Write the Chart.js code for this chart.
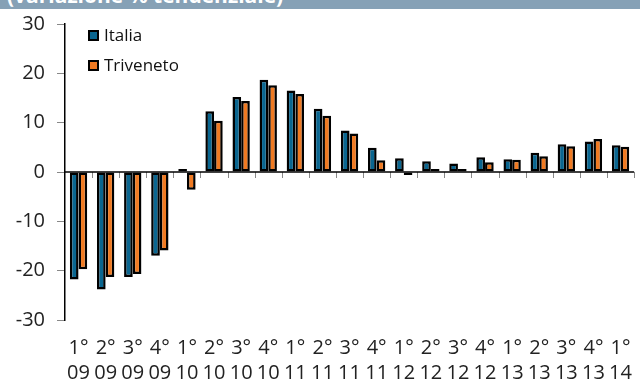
<!DOCTYPE html>
<html>
<head>
<meta charset="utf-8">
<script src="https://cdn.jsdelivr.net/npm/chart.js@4/dist/chart.umd.min.js"></script>
<style>
    body { margin: 0; background: #fff; }
    #wrap { position: relative; width: 640px; height: 383px; overflow: hidden; font-family: "Open Sans", sans-serif; }
    #titleBar { position: absolute; left: 0; top: 0; width: 640px; height: 9px; overflow: hidden; background: #86a1b6; }
    #titleBar span { position: absolute; left: 7px; top: -15px; font-size: 21px; line-height: 1; font-weight: bold; color: #fff; white-space: nowrap; }
    .leg { position: absolute; left: 88px; font-size: 17px; color: #111; line-height: 20px; }
    .leg i { position: absolute; left: 0; top: 5px; width: 7px; height: 7px; border: 2px solid #000; }
    .leg b { font-weight: normal; margin-left: 16px; }
</style>
</head>
<body>
<div id="wrap">
    <canvas id="myChart" width="640" height="383"></canvas>
    <div id="titleBar"><span>(variazione % tendenziale)</span></div>
    <div class="leg" style="top:25px"><i style="background:#0a6690"></i><b>Italia</b></div>
    <div class="leg" style="top:55px"><i style="background:#f07a22"></i><b>Triveneto</b></div>
</div>
<script>
// trimestri 2009 - 2014
var quarters = ['1°', '2°', '3°', '4°', '1°', '2°', '3°', '4°', '1°', '2°', '3°', '4°', '1°', '2°', '3°', '4°', '1°', '2°', '3°', '4°', '1°'];
var years = ['09', '09', '09', '09', '10', '10', '10', '10', '11', '11', '11', '11', '12', '12', '12', '12', '13', '13', '13', '13', '14'];
var italia = [-21.8, -23.8, -21.3, -17.0, 0.3, 12.3, 15.2, 18.7, 16.5, 12.8, 8.4, 4.9, 2.8, 2.2, 1.7, 3.0, 2.6, 3.9, 5.6, 6.2, 5.4];
var triveneto = [-19.7, -21.3, -20.7, -15.9, -3.6, 10.4, 14.4, 17.6, 15.8, 11.4, 7.8, 2.4, -0.2, 0.2, 0.5, 2.0, 2.5, 3.2, 5.2, 6.7, 5.1];
var yTicks = [-30, -20, -10, 0, 10, 20, 30];

var labels = quarters.map(function (q, i) { return [q, years[i]]; });

// linea dello zero e tacche delle categorie
var zeroAxis = {
    id: 'zeroAxis',
    afterDatasetsDraw: function (chart) {
        var ctx = chart.ctx;
        var x = chart.scales.x;
        var y0 = chart.scales.y.getPixelForValue(0);
        var area = chart.chartArea;
        ctx.save();
        ctx.strokeStyle = '#888';
        ctx.lineWidth = 1;
        for (var i = 1; i <= labels.length; i++) {
            var px = Math.round(x.getPixelForValue(i - 0.5)) + 0.5;
            ctx.beginPath();
            ctx.moveTo(px, y0);
            ctx.lineTo(px, y0 + 6);
            ctx.stroke();
        }
        ctx.strokeStyle = '#000';
        ctx.lineWidth = 1.5;
        ctx.beginPath();
        ctx.moveTo(area.left, y0);
        ctx.lineTo(area.right, y0);
        ctx.stroke();
        ctx.restore();
    }
};

var ctx = document.getElementById('myChart').getContext('2d');
var chart = new Chart(ctx, {
    type: 'bar',
    data: {
        labels: labels,
        datasets: [{
            label: 'Italia',
            data: italia,
            backgroundColor: '#0a6690',
            borderColor: '#000',
            borderWidth: 2.5,
            borderSkipped: false,
            minBarLength: 3
        }, {
            label: 'Triveneto',
            data: triveneto,
            backgroundColor: '#f07a22',
            borderColor: '#000',
            borderWidth: 2.5,
            borderSkipped: false,
            minBarLength: 3
        }]
    },
    options: {
        responsive: false,
        animation: false,
        layout: { padding: { top: 22, right: 1, left: 0, bottom: 0 } },
        plugins: {
            legend: { display: false },
            tooltip: { enabled: false }
        },
        datasets: {
            bar: { categoryPercentage: 0.64, barPercentage: 1 }
        },
        scales: {
            x: {
                grid: { display: false },
                border: { display: false },
                ticks: {
                    autoSkip: false,
                    maxRotation: 0,
                    padding: 8,
                    color: '#222',
                    font: { family: 'Open Sans', size: 20, lineHeight: 1.25 }
                },
                afterFit: function (s) { s.height = 63; }
            },
            y: {
                min: -30,
                max: 30,
                afterBuildTicks: function (s) {
                    s.ticks = yTicks.map(function (v) { return { value: v }; });
                },
                grid: {
                    drawOnChartArea: false,
                    tickLength: 8,
                    color: '#888'
                },
                border: { color: '#000', width: 1.5 },
                ticks: {
                    padding: 12,
                    color: '#222',
                    font: { family: 'Open Sans', size: 20 }
                },
                afterFit: function (s) { s.width = 65; }
            }
        }
    },
    plugins: [zeroAxis]
});
</script>
</body>
</html>
